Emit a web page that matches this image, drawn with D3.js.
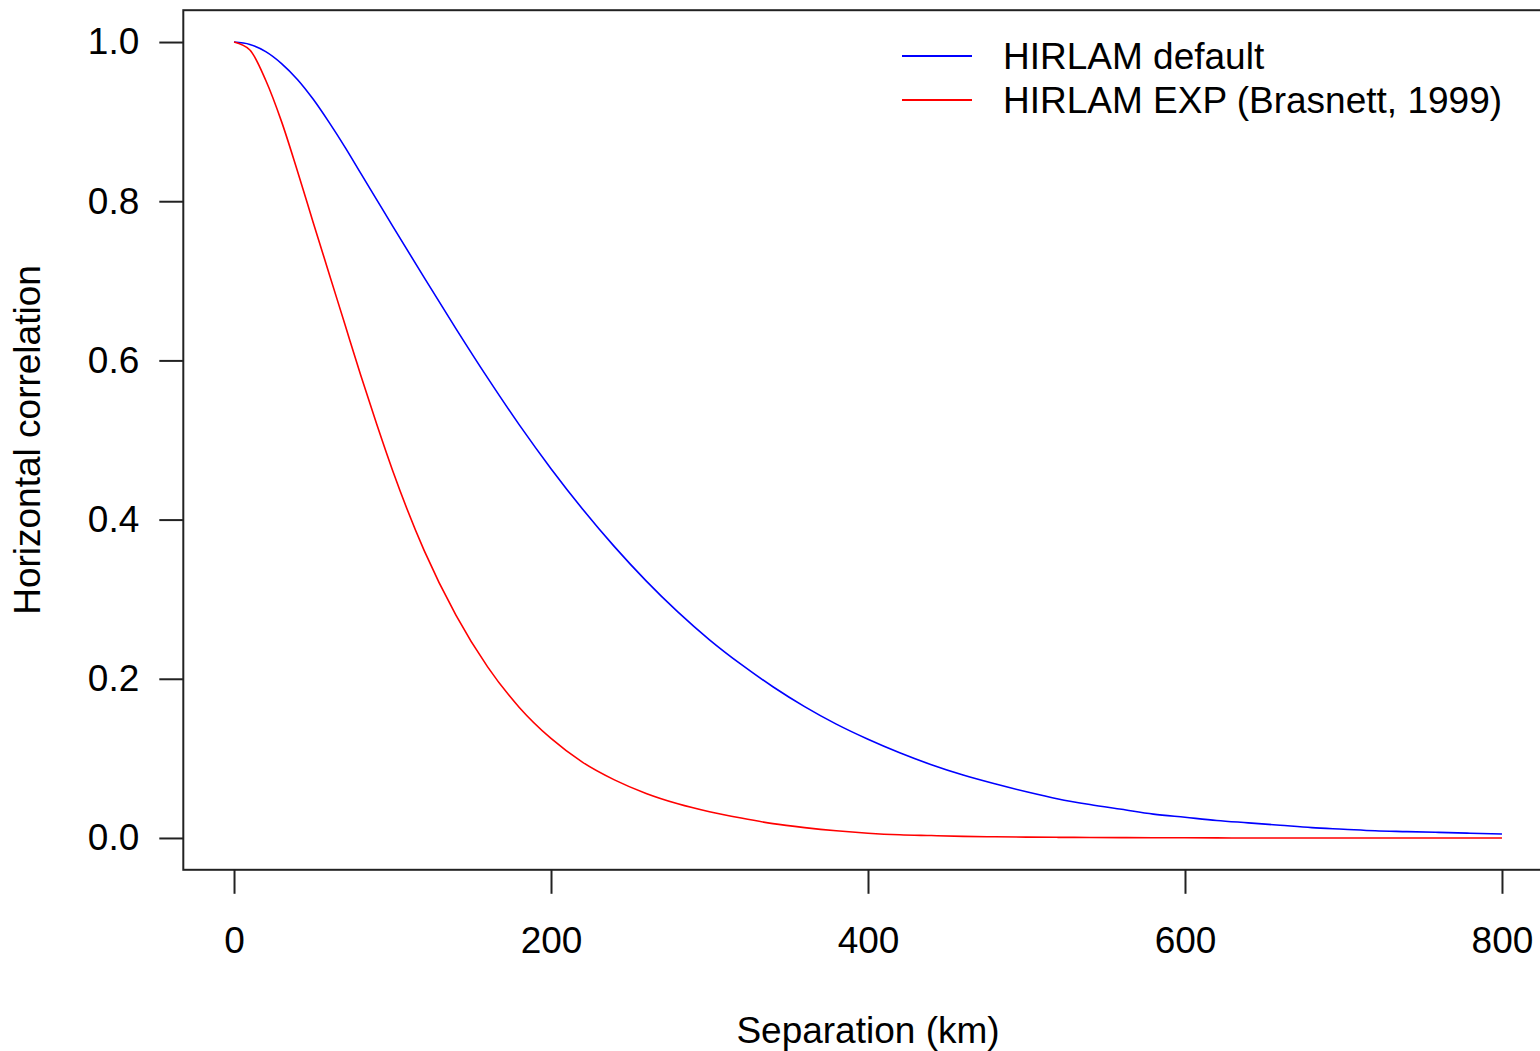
<!DOCTYPE html>
<html>
<head>
<meta charset="utf-8">
<script src="https://cdn.jsdelivr.net/npm/d3@7"></script>
<style>
  body { margin: 0; background: #fff; }
  svg { display: block; font-family: "Liberation Sans", Arial, sans-serif; }
</style>
</head>
<body>
<svg id="chart"></svg>
<script>
// separation in km (denser near the origin)
var separation = [0, 10, 20, 30, 40, 50, 60, 70, 80, 90, 100, 120, 140, 160, 180, 200,
  220, 240, 260, 280, 300, 320, 340, 360, 380, 400, 420, 440, 460, 480, 500,
  520, 540, 560, 580, 600, 620, 640, 660, 680, 700, 720, 740, 760, 780, 800];

var hirlamDefault = [1.000, 0.997, 0.988, 0.973, 0.953, 0.928, 0.899, 0.868, 0.835, 0.802, 0.769,
  0.704, 0.640, 0.578, 0.519, 0.464, 0.413, 0.366, 0.323, 0.284, 0.249,
  0.218, 0.190, 0.165, 0.143, 0.124, 0.107, 0.092, 0.079, 0.068, 0.058,
  0.049, 0.042, 0.036, 0.030, 0.026, 0.022, 0.019, 0.016, 0.013, 0.011,
  0.009, 0.008, 0.007, 0.006, 0.005];

var hirlamExp = [1.000, 0.990, 0.952, 0.900, 0.838, 0.773, 0.709, 0.645, 0.581, 0.520, 0.462,
  0.361, 0.280, 0.215, 0.164, 0.125, 0.095, 0.073, 0.056, 0.043, 0.033,
  0.025, 0.018, 0.013, 0.009, 0.006, 0.004, 0.003, 0.002, 0.0015, 0.001,
  0.0008, 0.0006, 0.0004, 0.0003, 0.0002, 0.0001, 0.0, 0.0, 0.0, 0.0,
  0.0, 0.0, 0.0, 0.0, 0.0];

var xTicks = [0, 200, 400, 600, 800];
var yTicks = [0.0, 0.2, 0.4, 0.6, 0.8, 1.0];

var seriesNames = ["HIRLAM default", "HIRLAM EXP (Brasnett, 1999)"];
var seriesColors = ["#0000ff", "#ff0000"];

var dimensions = {
  width: 1540,
  height: 1051
}

var svg = d3.select("#chart")
  .attr("width", dimensions.width)
  .attr("height", dimensions.height)

// R style: axis range padded 4% on each side
var xScale = d3.scaleLinear()
  .domain([-32, 832])
  .range([183.3, 1552.7])

var yScale = d3.scaleLinear()
  .domain([-0.04, 1.04])
  .range([869.8, 10.2])

var fontSize = 37

// plot box
svg.append("rect")
  .attr("x", xScale(-32))
  .attr("y", yScale(1.04))
  .attr("width", xScale(832) - xScale(-32))
  .attr("height", yScale(-0.04) - yScale(1.04))
  .attr("fill", "none")
  .attr("stroke", "#222")
  .attr("stroke-width", 2)

// x axis
var xAxis = d3.axisBottom(xScale)
  .tickValues(xTicks)
  .tickSize(24)
  .tickPadding(33)
  .tickFormat(d3.format("d"))

var gx = svg.append("g")
  .attr("transform", `translate(0,${yScale(-0.04)})`)
  .call(xAxis)
gx.select(".domain").remove()
gx.selectAll(".tick line").attr("stroke", "#222").attr("stroke-width", 2)
gx.selectAll(".tick text")
  .attr("fill", "#000")
  .style("font-size", fontSize + "px")
  .style("font-family", "Liberation Sans, Arial, sans-serif")

// y axis
var yAxis = d3.axisLeft(yScale)
  .tickValues(yTicks)
  .tickSize(24)
  .tickPadding(20)
  .tickFormat(d3.format(".1f"))

var gy = svg.append("g")
  .attr("transform", `translate(${xScale(-32)},0)`)
  .call(yAxis)
gy.select(".domain").remove()
gy.selectAll(".tick line").attr("stroke", "#222").attr("stroke-width", 2)
gy.selectAll(".tick text")
  .attr("fill", "#000")
  .style("font-size", fontSize + "px")
  .style("font-family", "Liberation Sans, Arial, sans-serif")

// axis titles
svg.append("text")
  .text("Separation (km)")
  .attr("x", xScale(400))
  .attr("y", 1043)
  .attr("text-anchor", "middle")
  .style("font-size", fontSize + "px")

svg.append("text")
  .text("Horizontal correlation")
  .attr("transform", `translate(40,${yScale(0.5)}) rotate(-90)`)
  .attr("text-anchor", "middle")
  .style("font-size", fontSize + "px")

// curves
var allSeries = [hirlamDefault, hirlamExp]

var line = d3.line()
  .x(function(d, i) { return xScale(separation[i]) })
  .y(function(d) { return yScale(d) })
  .curve(d3.curveMonotoneX)

allSeries.forEach(function(values, k) {
  svg.append("path")
    .datum(values)
    .attr("d", line)
    .attr("fill", "none")
    .attr("stroke", seriesColors[k])
    .attr("stroke-width", 1.6)
})

// legend
var legend = svg.append("g")
seriesNames.forEach(function(name, k) {
  var ly = 56 + k * 44
  legend.append("line")
    .attr("x1", 902)
    .attr("x2", 972)
    .attr("y1", ly)
    .attr("y2", ly)
    .attr("stroke", seriesColors[k])
    .attr("stroke-width", 2)
  legend.append("text")
    .text(name)
    .attr("x", 1003)
    .attr("y", ly)
    .attr("dy", "0.35em")
    .style("font-size", fontSize + "px")
})
</script>
</body>
</html>
